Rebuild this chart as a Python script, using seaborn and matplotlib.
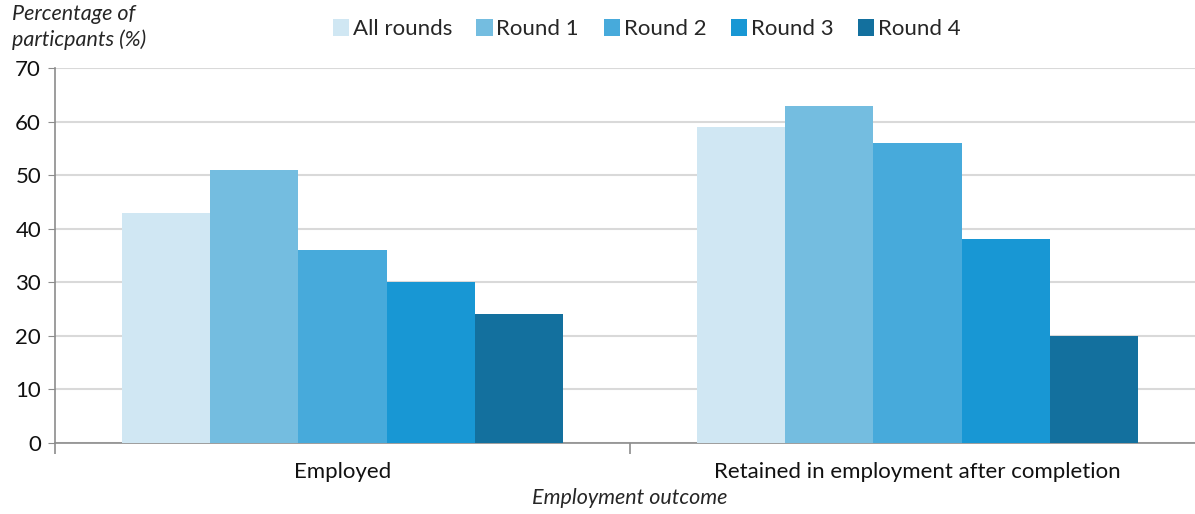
import pandas as pd
import matplotlib.pyplot as plt
import seaborn as sns

# data
outcomes = ['Employed', 'Retained in employment after completion']
rounds = ['All rounds', 'Round 1', 'Round 2', 'Round 3', 'Round 4']
employed = [43, 51, 36, 30, 24]
retained = [59, 63, 56, 38, 20]
colors = ['#d0e7f3', '#74bde0', '#47aadb', '#1897d4', '#13709e']

rows = []
for r, e, k in zip(rounds, employed, retained):
    rows.append({'outcome': outcomes[0], 'round': r, 'value': e})
    rows.append({'outcome': outcomes[1], 'round': r, 'value': k})
df = pd.DataFrame(rows)

sns.set_style('white')
plt.rcParams['font.family'] = ['Lato', 'DejaVu Sans']
plt.rcParams['font.size'] = 16

fig = plt.figure(figsize=(11.95, 5.14), dpi=100)
ax = fig.add_axes([55 / 1195, 1 - 443 / 514, 1150 / 1195, 375 / 514])

sns.barplot(data=df, x='outcome', y='value', hue='round', order=outcomes,
            hue_order=rounds, palette=colors, width=0.767, saturation=1,
            linewidth=0, ax=ax, legend=True, zorder=3)

ax.set_ylim(0, 70)
ax.set_yticks(range(0, 71, 10))
ax.set_xlim(-0.5, 1.5)
ax.grid(axis='y', color='#d9d9d9', linewidth=1.5, zorder=0)
ax.set_axisbelow(True)

for side in ['top', 'right']:
    ax.spines[side].set_visible(False)
for side in ['left', 'bottom']:
    ax.spines[side].set_color('#8c8c8c')
    ax.spines[side].set_linewidth(1.2)

ax.tick_params(axis='y', left=True, length=5, color='#8c8c8c', labelsize=16,
               pad=5, labelcolor='#111111')
ax.tick_params(axis='x', which='major', length=0, labelsize=16, pad=14,
               labelcolor='#111111')
ax.set_xticks([-0.5, 0.5, 1.5], minor=True)
ax.tick_params(axis='x', which='minor', bottom=True, length=8,
               color='#8c8c8c', width=1.2)

ax.set_xlabel('Employment outcome', style='italic', fontsize=15.5, labelpad=4)
ax.set_ylabel('')
fig.text(12 / 1195, 1 - 4 / 514, 'Percentage of\nparticpants (%)',
         style='italic', fontsize=15.5, va='top', ha='left', linespacing=1.3)

handles, labels = ax.get_legend_handles_labels()
ax.legend_.remove()
fig.legend(handles, labels, loc='center', bbox_to_anchor=(0.541, 0.943),
           ncol=5, frameon=False, fontsize=16, handlelength=0.75,
           handleheight=0.75, handletextpad=0.15, columnspacing=1.1)

plt.savefig('out.png', dpi=100)
